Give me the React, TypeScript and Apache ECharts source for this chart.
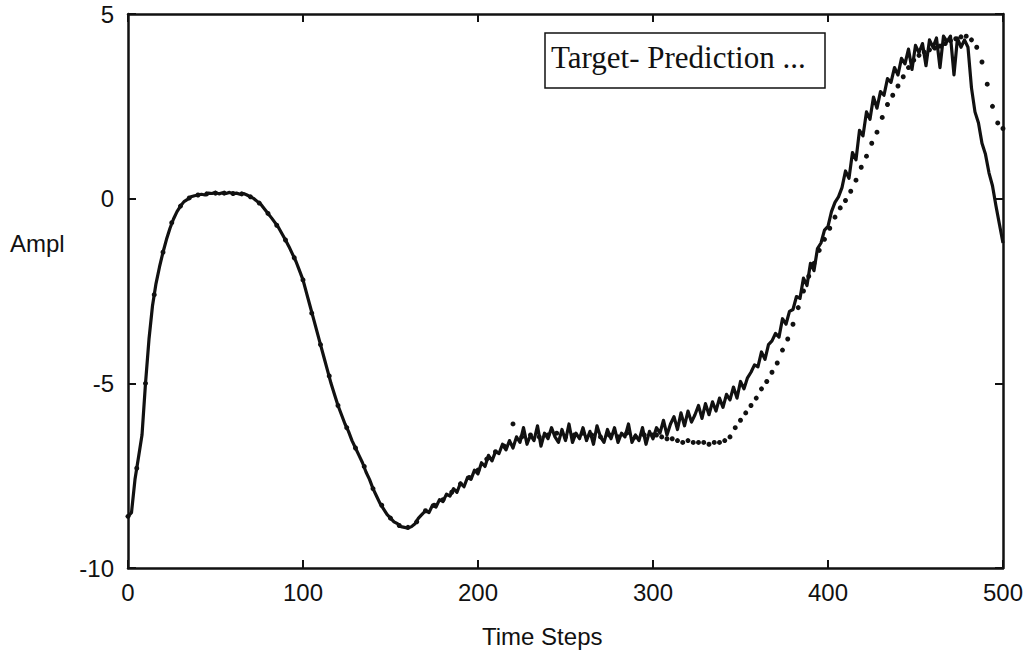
import React, { useEffect, useRef } from "react";
import * as echarts from "echarts";

// Tick values
const xTicks = [0, 100, 200, 300, 400, 500];
const yTicks = [-10, -5, 0, 5];

// Target: sampled every 2 time steps, t = 0..500
const targetStep = 2;
const target = [
  -8.6, -8.5, -7.6, -7.0, -6.4, -5.0, -3.8, -2.9, -2.3, -1.85,
  -1.45, -1.1, -0.8, -0.55, -0.35, -0.2, -0.08, -0.02, 0.05, 0.08,
  0.1, 0.12, 0.1, 0.15, 0.14, 0.17, 0.13, 0.16, 0.14, 0.17,
  0.13, 0.15, 0.12, 0.14, 0.1, 0.05, 0.0, -0.08, -0.16, -0.28,
  -0.4, -0.52, -0.65, -0.78, -0.95, -1.12, -1.3, -1.5, -1.7, -1.95,
  -2.2, -2.55, -2.9, -3.25, -3.6, -3.95, -4.3, -4.65, -5.0, -5.3,
  -5.6, -5.85, -6.1, -6.3, -6.55, -6.75, -6.95, -7.15, -7.4, -7.6,
  -7.85, -8.05, -8.25, -8.4, -8.55, -8.65, -8.75, -8.8, -8.88, -8.9,
  -8.92, -8.88, -8.8, -8.65, -8.55, -8.45, -8.5, -8.3, -8.35, -8.15,
  -8.2, -8.0, -8.05, -7.85, -7.95, -7.7, -7.8, -7.55, -7.6, -7.35,
  -7.45, -7.15, -7.25, -6.95, -7.1, -6.85, -6.9, -6.65, -6.8, -6.55,
  -6.75, -6.45, -6.6, -6.2, -6.65, -6.4, -6.55, -6.15, -6.7, -6.35,
  -6.5, -6.2, -6.45, -6.6, -6.25, -6.55, -6.1, -6.6, -6.35, -6.5,
  -6.2, -6.55, -6.3, -6.65, -6.15, -6.45, -6.6, -6.25, -6.5, -6.2,
  -6.6, -6.35, -6.45, -6.1, -6.6, -6.4, -6.55, -6.2, -6.65, -6.3,
  -6.5, -6.2, -6.35, -6.0, -6.4, -6.1, -5.9, -6.25, -5.8, -6.15,
  -5.75, -6.05, -5.85, -5.6, -5.95, -5.55, -5.85, -5.5, -5.75, -5.4,
  -5.65, -5.3, -5.45, -5.1, -5.4, -4.95, -5.15, -4.85, -4.7, -4.5,
  -4.55, -4.15, -4.35, -3.95, -3.85, -3.65, -3.75, -3.25, -3.4, -3.05,
  -3.0, -2.65, -2.7, -2.15, -2.35, -1.75, -1.95, -1.35, -1.2, -0.85,
  -0.75, -0.35, -0.1, 0.05, 0.3, 0.75, 0.55, 1.25, 1.05, 1.85,
  1.7, 2.35, 2.15, 2.75, 2.45, 2.9, 2.8, 3.25, 3.15, 3.55,
  3.35, 3.8, 3.65, 4.05, 3.5, 4.15, 3.95, 4.2, 3.6, 4.3,
  4.1, 4.35, 3.55, 4.4, 4.25, 4.4, 3.35, 4.35, 4.1, 4.3,
  4.1, 3.0, 2.35, 2.05, 1.5, 1.2, 0.7, 0.35, -0.2, -0.7,
  -1.2,
];

// Prediction: t = 0..300 every 5 steps
const predEarlyStep = 5;
const predEarly = [
  -8.6, -7.3, -5.0, -2.6, -1.45, -0.65, -0.2, 0.02, 0.1, 0.13,
  0.15, 0.15, 0.14, 0.13, 0.05, -0.12, -0.4, -0.72, -1.12, -1.6,
  -2.2, -3.1, -3.95, -4.8, -5.6, -6.2, -6.75, -7.25, -7.85, -8.3,
  -8.65, -8.85, -8.9, -8.75, -8.45, -8.3, -8.15, -7.95, -7.72, -7.55,
  -7.35, -7.05, -6.85, -6.7, -6.1, -6.45, -6.4, -6.45, -6.4, -6.35,
  -6.45, -6.4, -6.35, -6.4, -6.45, -6.4, -6.45, -6.35, -6.45, -6.4,
  -6.4,
];

// Prediction: t = 302..500 every 3 steps
const predLateStart = 302;
const predLateStep = 3;
const predLate = [
  -6.4, -6.45, -6.5, -6.5, -6.55, -6.6, -6.55, -6.6, -6.6, -6.6,
  -6.65, -6.6, -6.6, -6.55, -6.45, -6.2, -6.0, -5.8, -5.6, -5.4,
  -5.15, -4.95, -4.7, -4.45, -4.1, -3.8, -3.4, -2.95, -2.5, -2.1,
  -1.75, -1.4, -1.1, -0.8, -0.5, -0.25, -0.05, 0.2, 0.5, 0.85,
  1.15, 1.5, 1.8, 2.2, 2.55, 2.8, 3.05, 3.3, 3.55, 3.75,
  3.88, 3.97, 4.03, 4.08, 4.13, 4.2, 4.28, 4.33, 4.38, 4.4,
  4.3, 4.1, 3.7, 3.1, 2.5, 2.05, 1.9,
];

const legendText = "Target- Prediction ...";
const xName = "Time Steps";
const yName = "Ampl";

export default function App() {
  const ref = useRef<HTMLDivElement>(null);

  useEffect(() => {
    if (!ref.current) return;
    const chart = echarts.init(ref.current, undefined, { renderer: "svg" });

    const targetData = target.map((v, i) => [i * targetStep, v]);
    const predData = predEarly
      .map((v, i) => [i * predEarlyStep, v])
      .concat(predLate.map((v, i) => [predLateStart + i * predLateStep, v]));

    const sans = "Liberation Sans, Arial, Helvetica, sans-serif";
    const axisLine = { show: true, onZero: false, lineStyle: { color: "#111", width: 2.5 } };
    const tick = { show: true, inside: true, length: 8, lineStyle: { color: "#111", width: 2 } };

    chart.setOption({
      animation: false,
      backgroundColor: "#fff",
      grid: { left: 128, right: 21, top: 14, bottom: 90, containLabel: false },
      xAxis: [
        {
          type: "value",
          min: xTicks[0],
          max: xTicks[xTicks.length - 1],
          interval: 100,
          position: "bottom",
          axisLine,
          axisTick: tick,
          axisLabel: { color: "#111", fontSize: 24, fontFamily: sans, margin: 12 },
          splitLine: { show: false },
        },
        {
          type: "value",
          min: xTicks[0],
          max: xTicks[xTicks.length - 1],
          interval: 100,
          position: "top",
          axisLine,
          axisTick: tick,
          axisLabel: { show: false },
          splitLine: { show: false },
        },
      ],
      yAxis: [
        {
          type: "value",
          min: yTicks[0],
          max: yTicks[yTicks.length - 1],
          interval: 5,
          position: "left",
          axisLine,
          axisTick: tick,
          axisLabel: { color: "#111", fontSize: 24, fontFamily: sans, margin: 14 },
          splitLine: { show: false },
        },
        {
          type: "value",
          min: yTicks[0],
          max: yTicks[yTicks.length - 1],
          interval: 5,
          position: "right",
          axisLine,
          axisTick: tick,
          axisLabel: { show: false },
          splitLine: { show: false },
        },
      ],
      series: [
        {
          name: "Prediction",
          type: "line",
          data: predData,
          showSymbol: true,
          showAllSymbol: true,
          symbol: "circle",
          symbolSize: 5,
          itemStyle: { color: "#111" },
          lineStyle: { opacity: 0, width: 0 },
          z: 2,
          silent: true,
        },
        {
          name: "Target",
          type: "line",
          data: targetData,
          showSymbol: false,
          symbol: "none",
          lineStyle: { color: "#111", width: 3.2, join: "round" },
          z: 3,
          silent: true,
        },
      ],
      graphic: [
        {
          type: "rect",
          shape: { x: 545, y: 33, width: 280, height: 55 },
          style: { fill: "#fff", stroke: "#111", lineWidth: 1.5 },
          z: 10,
        },
        {
          type: "text",
          x: 551,
          y: 57,
          style: {
            text: legendText,
            fill: "#111",
            font: "31px 'Liberation Serif', 'Times New Roman', serif",
            verticalAlign: "middle",
            align: "left",
          },
          z: 11,
        },
        {
          type: "text",
          x: 10,
          y: 243,
          style: {
            text: yName,
            fill: "#111",
            font: "24px 'Liberation Sans', Arial, sans-serif",
            verticalAlign: "middle",
            align: "left",
          },
        },
        {
          type: "text",
          x: 482,
          y: 636,
          style: {
            text: xName,
            fill: "#111",
            font: "24px 'Liberation Sans', Arial, sans-serif",
            verticalAlign: "middle",
            align: "left",
          },
        },
      ],
    });

    return () => chart.dispose();
  }, []);

  return (
    <div
      ref={ref}
      style={{ position: "fixed", left: 0, top: 0, width: 1026, height: 658 }}
    />
  );
}
